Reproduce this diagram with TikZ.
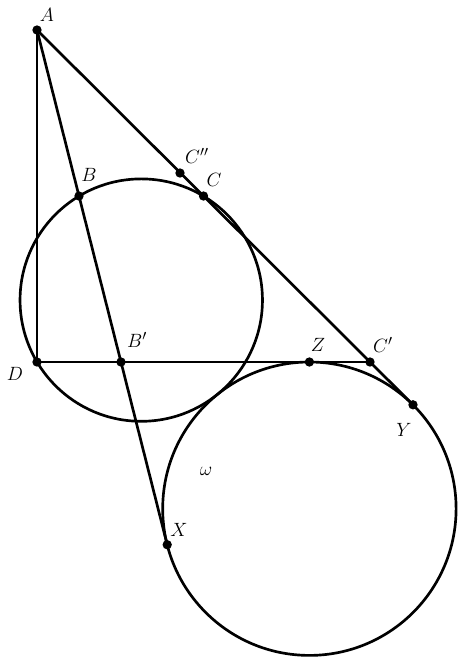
\documentclass[tikz,border=0pt]{standalone}
\begin{document}
\begin{tikzpicture}[x=0.75pt,y=-0.75pt,
  geo/.style={line width=2pt},
  pt/.style={circle,fill=black,inner sep=0pt,minimum size=7pt},
  lab/.style={inner sep=0pt,font=\fontsize{15.5}{18}\selectfont}]
\useasboundingbox (0,0) rectangle (466,662);
% points
\node[pt] (A) at (37,30) {};
\node[pt] (D) at (37,362) {};
\node[pt] (B) at (79,196) {};
\node[pt] (Bp) at (121,362) {};
\node[pt] (X) at (167.2,544.7) {};
\node[pt] (Cpp) at (180,173) {};
\node[pt] (C) at (203.5,196) {};
\node[pt] (Z) at (309.4,362) {};
\node[pt] (Cp) at (370,362) {};
\node[pt] (Y) at (413,404.8) {};
\coordinate (O1) at (141.25,300.1);
\coordinate (O2) at (309.4,508.7);
% circles
\draw[geo] (O1) circle[radius=121.2];
\draw[geo] (O2) circle[radius=146.7];
% lines
\draw[geo] (A.center) -- (D.center) -- (Cp.center);
\draw[geo] (A.center) -- (X.center);
\draw[geo] (A.center) -- (Y.center);
% labels
\node[lab] (lA) at (47,15) {$A$};
\node[lab] (lCpp) at (197,156) {$C''$};
\node[lab] (lC) at (214,180) {$C$};
\node[lab] (lB) at (89,175) {$B$};
\node[lab] (lBp) at (137,340) {$B'$};
\node[lab] (lD) at (15,374) {$D$};
\node[lab] (lZ) at (318,345) {$Z$};
\node[lab] (lCp) at (383,345) {$C'$};
\node[lab] (lY) at (404,430) {$Y$};
\node[lab] (lX) at (179,530) {$X$};
\node[lab] (lw) at (206,471) {$\omega$};
\end{tikzpicture}
\end{document}
